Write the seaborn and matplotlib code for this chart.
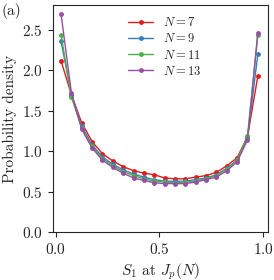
import numpy as np
import pandas as pd
import seaborn as sns
import matplotlib.pyplot as plt

# bin centres of S_1 (20 bins on [0, 1])
s1_bins = [0.025, 0.075, 0.125, 0.175, 0.225, 0.275, 0.325, 0.375, 0.425, 0.475,
           0.525, 0.575, 0.625, 0.675, 0.725, 0.775, 0.825, 0.875, 0.925, 0.975]

dens_n7 = [2.12, 1.70, 1.35, 1.12, 0.97, 0.88, 0.81, 0.76, 0.73, 0.71,
           0.67, 0.66, 0.66, 0.68, 0.70, 0.74, 0.82, 0.92, 1.18, 1.93]
dens_n9 = [2.36, 1.70, 1.31, 1.08, 0.93, 0.84, 0.77, 0.72, 0.68, 0.65,
           0.63, 0.63, 0.63, 0.65, 0.67, 0.71, 0.79, 0.89, 1.16, 2.20]
dens_n11 = [2.44, 1.67, 1.29, 1.06, 0.91, 0.82, 0.75, 0.70, 0.66, 0.63,
            0.62, 0.61, 0.62, 0.63, 0.66, 0.70, 0.78, 0.89, 1.19, 2.44]
dens_n13 = [2.70, 1.72, 1.27, 1.04, 0.89, 0.80, 0.73, 0.67, 0.64, 0.61,
            0.60, 0.60, 0.60, 0.62, 0.65, 0.68, 0.76, 0.87, 1.14, 2.47]

labels = [r"$N=7$", r"$N=9$", r"$N=11$", r"$N=13$"]
series = [dens_n7, dens_n9, dens_n11, dens_n13]

df = pd.concat([pd.DataFrame({"S1": s1_bins, "density": v, "N": lab})
                for lab, v in zip(labels, series)], ignore_index=True)

sns.set_style("ticks")
plt.rcParams["font.family"] = ["cmr10", "DejaVu Serif"]
plt.rcParams["mathtext.fontset"] = "cm"
plt.rcParams["axes.formatter.use_mathtext"] = True
plt.rcParams["font.size"] = 11

fig = plt.figure(figsize=(2.74, 2.8), dpi=100)
ax = fig.add_axes([0.193, 0.171, 0.785, 0.811])

sns.lineplot(data=df, x="S1", y="density", hue="N", palette="Set1",
             marker="o", markersize=3.5, markeredgewidth=0, linewidth=1.0,
             ax=ax)

ax.set_xlim(-0.0145, 1.024)
ax.set_ylim(0, 2.81)
ax.set_xticks([0.0, 0.5, 1.0])
ax.set_yticks([0.0, 0.5, 1.0, 1.5, 2.0, 2.5])
ax.set_xlabel(r"$S_1$ at $J_p(N)$", labelpad=3)
ax.set_ylabel("Probability density", labelpad=4)
for sp in ax.spines.values():
    sp.set_linewidth(0.8)
ax.tick_params(length=3.5, width=0.8, labelsize=11)

ax.legend(loc="upper center", frameon=False, fontsize=9, handlelength=2.0,
          borderaxespad=0.5, labelspacing=0.25, bbox_to_anchor=(0.52, 1.0))

fig.text(0.005, 0.99, "(a)", va="top", ha="left", fontsize=11)

fig.savefig("out.png", dpi=100)
